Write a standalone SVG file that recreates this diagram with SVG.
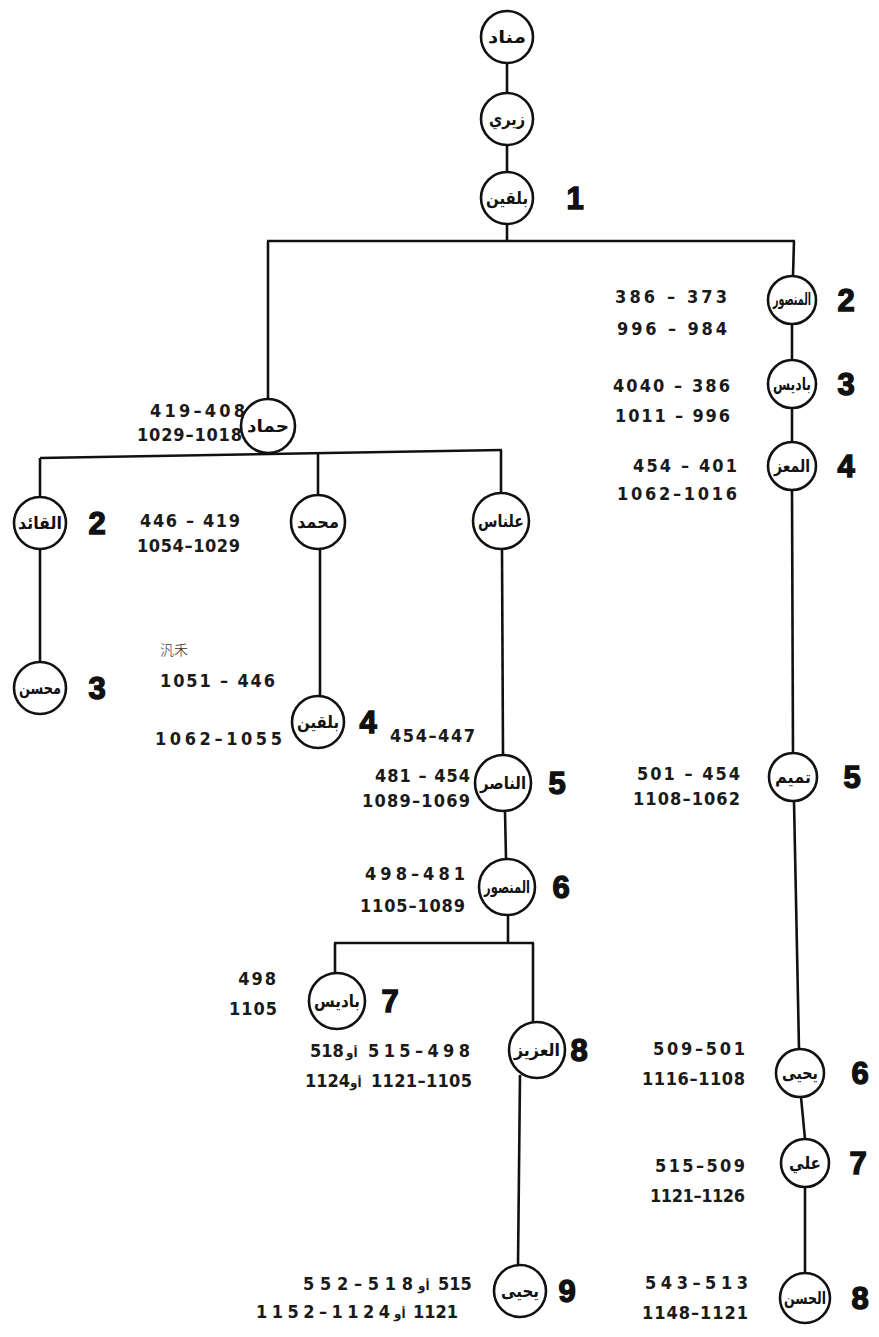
<svg xmlns="http://www.w3.org/2000/svg" width="879" height="1337" viewBox="0 0 879 1337">
<style>
.n circle{fill:#fff;stroke:#111;stroke-width:2.6}
.nm{font-family:"DejaVu Sans",sans-serif;font-size:17px;font-weight:bold;fill:#111;text-anchor:middle;direction:rtl}
.num{font-family:"DejaVu Sans Condensed","DejaVu Sans",sans-serif;font-size:18px;font-weight:bold;fill:#1a1a1a}
.e{text-anchor:end}
.ar{font-family:"DejaVu Sans",sans-serif;font-size:12px;font-weight:bold;fill:#1a1a1a}
.big{font-family:"Liberation Sans",Arial,sans-serif;font-size:31px;font-weight:900;fill:#111;text-anchor:middle;stroke:#111;stroke-width:1.4}
.c line{stroke:#111;stroke-width:2.6;fill:none}
.cjk{font-family:"Noto Sans CJK SC",sans-serif;font-size:14px;fill:#333;font-weight:300}
</style>
<rect width="879" height="1337" fill="#fff"/>
<g class="c" id="connectors">
<line x1="507" y1="63" x2="507" y2="93"/>
<line x1="507" y1="145" x2="507" y2="172"/>
<line x1="507" y1="224" x2="507" y2="241"/>
<line x1="267" y1="241" x2="795" y2="241"/>
<line x1="794" y1="241" x2="793" y2="276"/>
<line x1="792" y1="324" x2="792" y2="360"/>
<line x1="792" y1="408" x2="792" y2="442"/>
<line x1="792" y1="490" x2="793" y2="753"/>
<line x1="794" y1="801" x2="799" y2="1049"/>
<line x1="801" y1="1097" x2="805" y2="1139"/>
<line x1="805" y1="1187" x2="805" y2="1273"/>
<line x1="268" y1="241" x2="268" y2="399"/>
<line x1="40" y1="458" x2="502" y2="450"/>
<line x1="40" y1="458" x2="40" y2="497"/>
<line x1="40" y1="549" x2="40" y2="662"/>
<line x1="318" y1="454" x2="318" y2="495"/>
<line x1="320" y1="549" x2="320" y2="696"/>
<line x1="501" y1="450" x2="501" y2="493"/>
<line x1="502" y1="549" x2="503" y2="755"/>
<line x1="505" y1="811" x2="506" y2="859"/>
<line x1="508" y1="915" x2="508" y2="943"/>
<line x1="334" y1="943" x2="534" y2="943"/>
<line x1="335" y1="943" x2="335" y2="973"/>
<line x1="533" y1="943" x2="533" y2="1022"/>
<line x1="520" y1="1075" x2="518" y2="1265"/>
</g>
<g class="n" id="n_manad"><circle cx="507" cy="37" r="26"/><text class="nm" x="507" y="43" textLength="38" lengthAdjust="spacingAndGlyphs">مناد</text></g>
<g class="n" id="n_ziri"><circle cx="507" cy="119" r="26"/><text class="nm" x="507" y="125" textLength="36" lengthAdjust="spacingAndGlyphs">زيري</text></g>
<g class="n" id="n_bologhine"><circle cx="507" cy="198" r="26"/><text class="nm" x="507" y="204" textLength="42" lengthAdjust="spacingAndGlyphs">بلقين</text><text class="big" x="575" y="209">1</text></g>
<g class="n" id="n_mansur1"><circle cx="792" cy="300" r="24"/><text class="nm" x="792" y="305" font-size="12" textLength="38" lengthAdjust="spacingAndGlyphs">المنصور</text><text class="big" x="846" y="311">2</text></g>
<g class="n" id="n_badis1"><circle cx="792" cy="384" r="24"/><text class="nm" x="792" y="390" font-size="14" textLength="38" lengthAdjust="spacingAndGlyphs">باديس</text><text class="big" x="846" y="395">3</text></g>
<g class="n" id="n_muizz"><circle cx="792" cy="466" r="24"/><text class="nm" x="792" y="472" textLength="36" lengthAdjust="spacingAndGlyphs">المعز</text><text class="big" x="846" y="477">4</text></g>
<g class="n" id="n_tamim"><circle cx="793" cy="777" r="24"/><text class="nm" x="793" y="783" textLength="36" lengthAdjust="spacingAndGlyphs">تميم</text><text class="big" x="852" y="788">5</text></g>
<g class="n" id="n_yahya1"><circle cx="800" cy="1073" r="24"/><text class="nm" x="800" y="1079" textLength="36" lengthAdjust="spacingAndGlyphs">يحيى</text><text class="big" x="860" y="1084">6</text></g>
<g class="n" id="n_ali"><circle cx="805" cy="1163" r="24"/><text class="nm" x="805" y="1169" textLength="32" lengthAdjust="spacingAndGlyphs">علي</text><text class="big" x="858" y="1174">7</text></g>
<g class="n" id="n_hasan"><circle cx="805" cy="1298" r="25"/><text class="nm" x="805" y="1304" textLength="42" lengthAdjust="spacingAndGlyphs">الحسن</text><text class="big" x="860" y="1309">8</text></g>
<g class="n" id="n_hammad"><circle cx="268" cy="426" r="27"/><text class="nm" x="268" y="432" textLength="42" lengthAdjust="spacingAndGlyphs">حماد</text></g>
<g class="n" id="n_qaid"><circle cx="40" cy="523" r="26"/><text class="nm" x="40" y="529" textLength="44" lengthAdjust="spacingAndGlyphs">القائد</text><text class="big" x="97" y="534">2</text></g>
<g class="n" id="n_muhsin"><circle cx="40" cy="688" r="26"/><text class="nm" x="40" y="694" textLength="42" lengthAdjust="spacingAndGlyphs">محسن</text><text class="big" x="97" y="699">3</text></g>
<g class="n" id="n_muhammad"><circle cx="318" cy="522" r="27"/><text class="nm" x="318" y="528" textLength="42" lengthAdjust="spacingAndGlyphs">محمد</text></g>
<g class="n" id="n_bologhine2"><circle cx="318" cy="722" r="26"/><text class="nm" x="318" y="728" textLength="42" lengthAdjust="spacingAndGlyphs">بلقين</text><text class="big" x="368" y="733">4</text></g>
<g class="n" id="n_ulnas"><circle cx="501" cy="521" r="28"/><text class="nm" x="501" y="527" textLength="46" lengthAdjust="spacingAndGlyphs">علناس</text></g>
<g class="n" id="n_nasir"><circle cx="503" cy="783" r="28"/><text class="nm" x="503" y="789" textLength="46" lengthAdjust="spacingAndGlyphs">الناصر</text><text class="big" x="557" y="794">5</text></g>
<g class="n" id="n_mansur2"><circle cx="507" cy="887" r="28"/><text class="nm" x="507" y="893" font-size="14" textLength="46" lengthAdjust="spacingAndGlyphs">المنصور</text><text class="big" x="561" y="898">6</text></g>
<g class="n" id="n_badis2"><circle cx="337" cy="1001" r="28"/><text class="nm" x="337" y="1007" textLength="46" lengthAdjust="spacingAndGlyphs">باديس</text><text class="big" x="390" y="1012">7</text></g>
<g class="n" id="n_aziz"><circle cx="537" cy="1050" r="28"/><text class="nm" x="537" y="1056" textLength="46" lengthAdjust="spacingAndGlyphs">العزيز</text><text class="big" x="579" y="1061">8</text></g>
<g class="n" id="n_yahya2"><circle cx="520" cy="1291" r="26"/><text class="nm" x="520" y="1297" textLength="38" lengthAdjust="spacingAndGlyphs">يحيى</text><text class="big" x="567" y="1302">9</text></g>
<g id="dates">
<text class="num" x="615" y="303" textLength="112" lengthAdjust="spacing">386 – 373</text>
<text class="num" x="617" y="335" textLength="110" lengthAdjust="spacing">996 – 984</text>
<text class="num" x="613" y="392" textLength="117" lengthAdjust="spacing">4040 – 386</text>
<text class="num" x="615" y="422" textLength="115" lengthAdjust="spacing">1011 – 996</text>
<text class="num" x="633" y="472" textLength="104" lengthAdjust="spacing">454 – 401</text>
<text class="num" x="617" y="500" textLength="120" lengthAdjust="spacing">1062–1016</text>
<text class="num" x="637" y="780" textLength="103" lengthAdjust="spacing">501 – 454</text>
<text class="num" x="633" y="805" textLength="107" lengthAdjust="spacing">1108–1062</text>
<text class="num" x="653" y="1055" textLength="92" lengthAdjust="spacing">509–501</text>
<text class="num" x="642" y="1085" textLength="103" lengthAdjust="spacing">1116–1108</text>
<text class="num" x="655" y="1172" textLength="90" lengthAdjust="spacing">515–509</text>
<text class="num" x="650" y="1202" textLength="95" lengthAdjust="spacing">1121–1126</text>
<text class="num" x="645" y="1289" textLength="103" lengthAdjust="spacing">543–513</text>
<text class="num" x="642" y="1319" textLength="106" lengthAdjust="spacing">1148–1121</text>
<text class="num" x="150" y="417" textLength="95" lengthAdjust="spacing">419–408</text>
<text class="num" x="137" y="441" textLength="105" lengthAdjust="spacing">1029–1018</text>
<text class="num" x="140" y="527" textLength="100" lengthAdjust="spacing">446 – 419</text>
<text class="num" x="137" y="552" textLength="103" lengthAdjust="spacing">1054–1029</text>
<text class="cjk" x="160" y="655">汎禾</text>
<text class="num" x="160" y="687" textLength="115" lengthAdjust="spacing">1051 – 446</text>
<text class="num" x="155" y="745" textLength="127" lengthAdjust="spacing">1062–1055</text>
<text class="num" x="390" y="742" textLength="85" lengthAdjust="spacing">454–447</text>
<text class="num" x="375" y="782" textLength="95" lengthAdjust="spacing">481 – 454</text>
<text class="num" x="362" y="807" textLength="108" lengthAdjust="spacing">1089–1069</text>
<text class="num" x="365" y="880" textLength="100" lengthAdjust="spacing">498–481</text>
<text class="num" x="360" y="912" textLength="105" lengthAdjust="spacing">1105–1089</text>
<text class="num e" x="278" y="985" letter-spacing="2">498</text>
<text class="num e" x="278" y="1015" letter-spacing="1">1105</text>
<text class="num" x="310" y="1057">518</text>
<text class="ar" x="346" y="1057">أو</text>
<text class="num" x="368" y="1057" textLength="102" lengthAdjust="spacing">515–498</text>
<text class="num" x="305" y="1087">1124</text>
<text class="ar" x="350" y="1087">أو</text>
<text class="num" x="371" y="1087" textLength="101" lengthAdjust="spacing">1121–1105</text>
<text class="num" x="303" y="1290" textLength="110" lengthAdjust="spacing">552–518</text>
<text class="ar" x="418" y="1290">أو</text>
<text class="num" x="438" y="1290">515</text>
<text class="num" x="256" y="1318" textLength="134" lengthAdjust="spacing">1152–1124</text>
<text class="ar" x="394" y="1318">أو</text>
<text class="num" x="413" y="1318">1121</text>
</g>
</svg>
